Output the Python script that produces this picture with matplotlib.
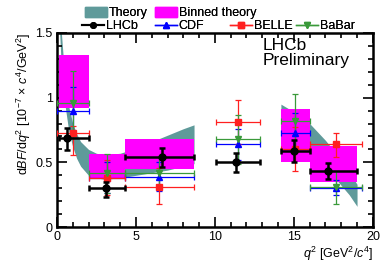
import numpy as np
import matplotlib.pyplot as plt
from matplotlib.patches import Patch
from matplotlib.lines import Line2D
from matplotlib.ticker import MultipleLocator

plt.rcParams['font.family'] = ['Liberation Sans', 'DejaVu Sans']
plt.rcParams['mathtext.fontset'] = 'custom'
plt.rcParams['mathtext.rm'] = 'Liberation Sans'
plt.rcParams['mathtext.it'] = 'Liberation Sans:italic'

# theory band (low and high q2 regions)
band_lo_q2 = [0.1, 0.25, 0.5, 0.75, 1.0, 1.25, 1.5, 2.0, 2.5, 3.0, 4.0, 5.0, 6.0, 7.0, 8.0, 8.68]
band_lo_up = [2.0, 1.55, 1.15, 0.93, 0.80, 0.72, 0.66, 0.60, 0.57, 0.56, 0.57, 0.61, 0.66, 0.71, 0.76, 0.79]
band_lo_dn = [1.7, 1.3, 0.95, 0.74, 0.62, 0.53, 0.47, 0.40, 0.38, 0.37, 0.38, 0.40, 0.42, 0.44, 0.47, 0.49]
band_hi_q2 = [14.18, 15.0, 16.0, 17.0, 17.8, 18.5, 19.0]
band_hi_up = [0.95, 0.89, 0.80, 0.67, 0.55, 0.43, 0.33]
band_hi_dn = [0.62, 0.58, 0.52, 0.45, 0.35, 0.25, 0.16]

# binned theory boxes
bt_lo = [0.1, 2.0, 4.3, 14.18, 16.0]
bt_hi = [2.0, 4.3, 8.68, 16.0, 19.0]
bt_min = [0.92, 0.37, 0.446, 0.505, 0.35]
bt_max = [1.33, 0.565, 0.678, 0.91, 0.626]

# LHCb
lhcb_x = [0.61, 3.08, 6.67, 11.31, 15.02, 17.17]
lhcb_xlo = [0.1, 2.0, 4.3, 10.09, 14.18, 16.0]
lhcb_xhi = [2.0, 4.3, 8.68, 12.86, 16.0, 19.0]
lhcb_y = [0.686, 0.30, 0.539, 0.505, 0.59, 0.435]
lhcb_edn = [0.09, 0.065, 0.077, 0.077, 0.085, 0.064]
lhcb_eup = [0.077, 0.05, 0.074, 0.065, 0.083, 0.062]

# other experiments share binning
oth_x = [1.0, 3.15, 6.49, 11.475, 15.09, 17.65]
oth_xlo = [0.0, 2.0, 4.3, 10.09, 14.18, 16.0]
oth_xhi = [2.0, 4.3, 8.68, 12.86, 16.0, 19.3]

cdf_y = [0.90, 0.38, 0.39, 0.64, 0.73, 0.304]
cdf_err = [0.18, 0.12, 0.11, 0.12, 0.15, 0.06]

belle_y = [0.73, 0.38, 0.31, 0.81, 0.60, 0.64]
belle_edn = [0.17, 0.13, 0.13, 0.17, 0.17, 0.095]
belle_eup = [0.05, 0.14, 0.145, 0.17, 0.17, 0.09]

babar_y = [0.957, 0.415, 0.42, 0.678, 0.822, 0.307]
babar_err = [0.25, 0.15, 0.12, 0.19, 0.21, 0.13]

teal = '#5f9a9a'
green = '#3a9a3a'
red = '#ff2020'

fig = plt.figure(figsize=(3.9, 2.7), dpi=100)
ax = fig.add_axes([0.146, 0.159, 0.81, 0.719])

ax.fill_between(band_lo_q2, band_lo_dn, band_lo_up, color=teal, lw=0, zorder=1)
ax.fill_between(band_hi_q2, band_hi_dn, band_hi_up, color=teal, lw=0, zorder=1)
for a, b, lo, hi in zip(bt_lo, bt_hi, bt_min, bt_max):
    ax.fill_between([a, b], [lo, lo], [hi, hi], color='#ff00ff', lw=0, zorder=2)

def xerrs(x, lo, hi):
    x = np.array(x)
    return [x - np.array(lo), np.array(hi) - x]

ax.errorbar(oth_x, cdf_y, yerr=cdf_err, xerr=xerrs(oth_x, oth_xlo, oth_xhi),
            fmt='^', color='#0000ff', ms=4, lw=0.9, capsize=2.5, capthick=0.9, zorder=3)
ax.errorbar(oth_x, belle_y, yerr=[belle_edn, belle_eup], xerr=xerrs(oth_x, oth_xlo, oth_xhi),
            fmt='s', color=red, ms=4, lw=0.9, capsize=2.5, capthick=0.9, zorder=3)
ax.errorbar(oth_x, babar_y, yerr=babar_err, xerr=xerrs(oth_x, oth_xlo, oth_xhi),
            fmt='v', color=green, ms=4, lw=0.9, capsize=2.5, capthick=0.9, zorder=3)
ax.errorbar(lhcb_x, lhcb_y, yerr=[lhcb_edn, lhcb_eup], xerr=xerrs(lhcb_x, lhcb_xlo, lhcb_xhi),
            fmt='o', color='black', ms=5, lw=1.8, capsize=2.5, capthick=1.8, zorder=4)

ax.set_xlim(0, 20)
ax.set_ylim(0, 1.5)
ax.xaxis.set_major_locator(MultipleLocator(5))
ax.xaxis.set_minor_locator(MultipleLocator(1))
ax.yaxis.set_major_locator(MultipleLocator(0.5))
ax.yaxis.set_minor_locator(MultipleLocator(0.1))
ax.xaxis.set_major_formatter(plt.FuncFormatter(lambda v, p: '%g' % v))
ax.yaxis.set_major_formatter(plt.FuncFormatter(lambda v, p: '%g' % v))
ax.tick_params(which='both', direction='in', top=True, right=True, labelsize=9, width=1.2, pad=3)
ax.tick_params(which='major', length=7)
ax.tick_params(which='minor', length=3.5)
for s in ax.spines.values():
    s.set_linewidth(1.8)

ax.set_xlabel(r'$q^2$ [GeV$^2$/$c^4$]', fontsize=9, loc='right', labelpad=1)
ax.set_ylabel(r'd$BF$/d$q^2$ [10$^{-7}$ $\times$ $c^4$/GeV$^2$]', fontsize=9, loc='top', labelpad=2)

ax.text(13.0, 1.46, 'LHCb\nPreliminary', fontsize=12.5, va='top', ha='left', linespacing=1.0)

# legend entries placed one by one, like the ROOT original
entries = [
    (Patch(color=teal, label='Theory'), 85, 13),
    (Patch(color='#ff00ff', label='Binned theory'), 155, 13),
    (Line2D([], [], color='black', marker='o', ms=4, lw=1.5, label='LHCb'), 82, 26),
    (Line2D([], [], color='#0000ff', marker='^', ms=4, lw=1, label='CDF'), 155, 26),
    (Line2D([], [], color=red, marker='s', ms=4, lw=1, label='BELLE'), 230, 26),
    (Line2D([], [], color=green, marker='v', ms=4, lw=1, label='BaBar'), 296, 26),
]
for h, px, py in entries:
    leg = fig.legend(handles=[h], loc='center left', bbox_to_anchor=(px / 390, 1 - py / 270),
                     frameon=False, fontsize=9, handlelength=1.75, handleheight=0.9,
                     handletextpad=0.15, borderpad=0, borderaxespad=0)
    fig.add_artist(leg)

fig.savefig('out.png', dpi=100)
